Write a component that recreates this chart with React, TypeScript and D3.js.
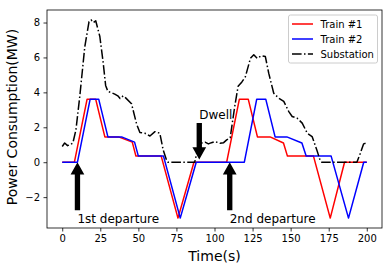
import React, { useRef, useEffect } from "react";
import * as d3 from "d3";

// Train #1 (red)
const train1Time = [0, 8, 16.3, 22, 28, 37, 46, 48.4, 65, 76, 86.5, 108, 116.3, 122.2, 128.2, 136.5, 145.3, 147.9, 165, 176, 185.4, 200];
const train1Power = [0, 0, 3.6, 3.6, 1.45, 1.45, 1.15, 0.35, 0.35, -3.2, 0, 0, 3.6, 3.6, 1.45, 1.45, 1.1, 0.35, 0.35, -3.2, 0, 0];

// Train #2 (blue)
const train2Time = [0, 10, 18.3, 24, 30, 39, 47.5, 50, 66.5, 77.5, 88, 119.6, 127.7, 133.7, 139.8, 147.5, 157.4, 160.2, 176.6, 188, 198, 200];
const train2Power = [0, 0, 3.6, 3.6, 1.45, 1.45, 1.15, 0.35, 0.35, -3.2, 0, 0, 3.6, 3.6, 1.45, 1.45, 1.1, 0.35, 0.35, -3.2, 0, 0];

// Substation (black dash-dot)
const subTime = [
  0, 1.6, 3.5, 5, 7, 9, 11.5, 14.8, 17.6, 19, 20.5, 22, 24.7, 26.9, 28.5, 30, 32, 34.5, 36.5, 38, 40, 41.5,
  45.5, 48.8, 51, 54.3, 57.6, 60.9, 64.1, 66.3, 68.5, 69.5, 87, 89.3, 91.6, 93.8, 96, 98, 100.3, 103.6, 106,
  108, 110.3, 113.3, 115.5, 118, 120.3, 123.6, 125.8, 128, 130.8, 133.4, 135.6, 138.9, 142.2, 145.5, 148.8,
  151, 154.3, 157.6, 160.9, 164.1, 167.2, 169.4, 170.5, 193.5, 195.7, 197.9, 200,
];
const subPower = [
  0.9, 1.1, 0.95, 1.0, 1.1, 1.85, 3.75, 6.6, 8.05, 8.15, 8.0, 8.1, 7.2, 5.7, 4.4, 4.05, 4.0, 3.9, 3.8, 3.65, 3.8, 3.7,
  3.35, 2.2, 1.7, 1.66, 1.5, 1.75, 1.66, 0.7, 0.12, 0, 0, 0.9, 1.1, 1.15, 1.05, 1.12, 1.18, 1.09, 1.12,
  1.28, 1.4, 3.2, 4.35, 4.6, 4.9, 5.95, 6.15, 5.95, 6.1, 6.05, 5.1, 3.95, 3.67, 3.48, 2.9,
  2.62, 2.52, 2.24, 1.66, 1.47, 0.7, 0.1, 0, 0, 0.5, 1.05, 1.1,
];

const seriesLabels = ["Train #1", "Train #2", "Substation"];
const xTicks = [0, 25, 50, 75, 100, 125, 150, 175, 200];
const yTicks = [-2, 0, 2, 4, 6, 8];

// arrows: x position, tail value, tip value
const arrowX = [10, 90, 110];
const arrowFrom = [-2.75, 2.25, -2.75];
const arrowTo = [0, 0.15, 0];

const annText = ["1st departure", "Dwell", "2nd departure"];
const annX = [10, 90, 110];
const annY = [-3.5, 2.5, -3.5];

const W = 392;
const H = 270;
const margin = { top: 10, right: 10, bottom: 42, left: 47 };
const FONT = "DejaVu Sans, sans-serif";

const zip = (t: number[], v: number[]) => t.map((d, i) => [d, v[i]] as [number, number]);

export default function App() {
  const svgRef = useRef<SVGSVGElement | null>(null);

  useEffect(() => {
    if (!svgRef.current) return;
    const svg = d3.select(svgRef.current);
    svg.selectAll("*").remove();

    const x0 = d3.min(train1Time)!;
    const x1 = d3.max(train1Time)!;
    const xPad = (x1 - x0) * 0.05;
    const allY = [...train1Power, ...train2Power, ...subPower];
    const y0 = d3.min(allY)!;
    const y1 = d3.max(allY)!;
    const yPad = (y1 - y0) * 0.05;

    const x = d3.scaleLinear().domain([x0 - xPad, x1 + xPad]).range([margin.left, W - margin.right]);
    const y = d3.scaleLinear().domain([y0 - yPad, y1 + yPad]).range([H - margin.bottom, margin.top]);

    const line = d3
      .line<[number, number]>()
      .x((d) => x(d[0]))
      .y((d) => y(d[1]));

    // arrows (under the lines)
    const shaftHalf = 1.75; // in seconds
    const headHalf = 4.5;
    const headLen = 0.7; // in MW
    arrowX.forEach((ax, i) => {
      const from = arrowFrom[i];
      const to = arrowTo[i];
      const dir = to > from ? 1 : -1;
      const base = to - dir * headLen;
      const pts: [number, number][] = [
        [ax - shaftHalf, from],
        [ax - shaftHalf, base],
        [ax - headHalf, base],
        [ax, to],
        [ax + headHalf, base],
        [ax + shaftHalf, base],
        [ax + shaftHalf, from],
      ];
      svg
        .append("path")
        .attr("d", line(pts) + "Z")
        .attr("fill", "#000");
    });

    const series = [
      { data: zip(train1Time, train1Power), color: "#ff0000", dash: null },
      { data: zip(train2Time, train2Power), color: "#0000ff", dash: null },
      { data: zip(subTime, subPower), color: "#000000", dash: "9.6,2.4,1.5,2.4" },
    ];

    series.forEach((s) => {
      svg
        .append("path")
        .datum(s.data)
        .attr("fill", "none")
        .attr("stroke", s.color)
        .attr("stroke-width", 1.5)
        .attr("stroke-linejoin", "round")
        .attr("stroke-dasharray", s.dash)
        .attr("d", line);
    });

    // annotations
    annText.forEach((t, i) => {
      svg
        .append("text")
        .attr("x", x(annX[i]))
        .attr("y", y(annY[i]))
        .attr("font-family", FONT)
        .attr("font-size", 12)
        .attr("fill", "#000")
        .text(t);
    });

    // frame
    svg
      .append("rect")
      .attr("x", margin.left)
      .attr("y", margin.top)
      .attr("width", W - margin.left - margin.right)
      .attr("height", H - margin.top - margin.bottom)
      .attr("fill", "none")
      .attr("stroke", "#000")
      .attr("stroke-width", 0.8);

    // x axis
    const xAxis = svg
      .append("g")
      .attr("transform", `translate(0,${H - margin.bottom})`)
      .call(d3.axisBottom(x).tickValues(xTicks).tickSizeOuter(0).tickSize(3.5).tickPadding(3.5));
    xAxis.select(".domain").remove();
    xAxis.selectAll("line").attr("stroke-width", 0.8);
    xAxis.selectAll("text").attr("font-family", FONT).attr("font-size", 10).attr("fill", "#000");

    const yAxis = svg
      .append("g")
      .attr("transform", `translate(${margin.left},0)`)
      .call(
        d3
          .axisLeft(y)
          .tickValues(yTicks)
          .tickSizeOuter(0)
          .tickSize(3.5)
          .tickPadding(3.5)
          .tickFormat((d) => (Number(d) < 0 ? "\u2212" + Math.abs(Number(d)) : String(d)))
      );
    yAxis.select(".domain").remove();
    yAxis.selectAll("line").attr("stroke-width", 0.8);
    yAxis.selectAll("text").attr("font-family", FONT).attr("font-size", 10).attr("fill", "#000");

    // axis labels
    svg
      .append("text")
      .attr("x", (margin.left + W - margin.right) / 2)
      .attr("y", 260.5)
      .attr("text-anchor", "middle")
      .attr("font-family", FONT)
      .attr("font-size", 14)
      .text("Time(s)");

    svg
      .append("text")
      .attr("transform", `translate(17.3,${(margin.top + H - margin.bottom) / 2 - 2}) rotate(-90)`)
      .attr("text-anchor", "middle")
      .attr("font-family", FONT)
      .attr("font-size", 14)
      .text("Power Consumption(MW)");

    // legend
    const lg = svg.append("g").attr("transform", "translate(288.5,15)");
    lg.append("rect")
      .attr("width", 89)
      .attr("height", 48)
      .attr("rx", 2)
      .attr("fill", "#fff")
      .attr("fill-opacity", 0.8)
      .attr("stroke", "#cccccc")
      .attr("stroke-width", 1);
    seriesLabels.forEach((label, i) => {
      const cy = 9 + i * 15;
      lg.append("line")
        .attr("x1", 3.5)
        .attr("x2", 24.5)
        .attr("y1", cy)
        .attr("y2", cy)
        .attr("stroke", series[i].color)
        .attr("stroke-width", 1.5)
        .attr("stroke-dasharray", series[i].dash);
      lg.append("text")
        .attr("x", 32)
        .attr("y", cy)
        .attr("dy", "0.35em")
        .attr("font-family", FONT)
        .attr("font-size", 10)
        .text(label);
    });
  }, []);

  return (
    <svg
      ref={svgRef}
      width={W}
      height={H}
      style={{ position: "absolute", left: 0, top: 0, background: "#fff" }}
    />
  );
}
